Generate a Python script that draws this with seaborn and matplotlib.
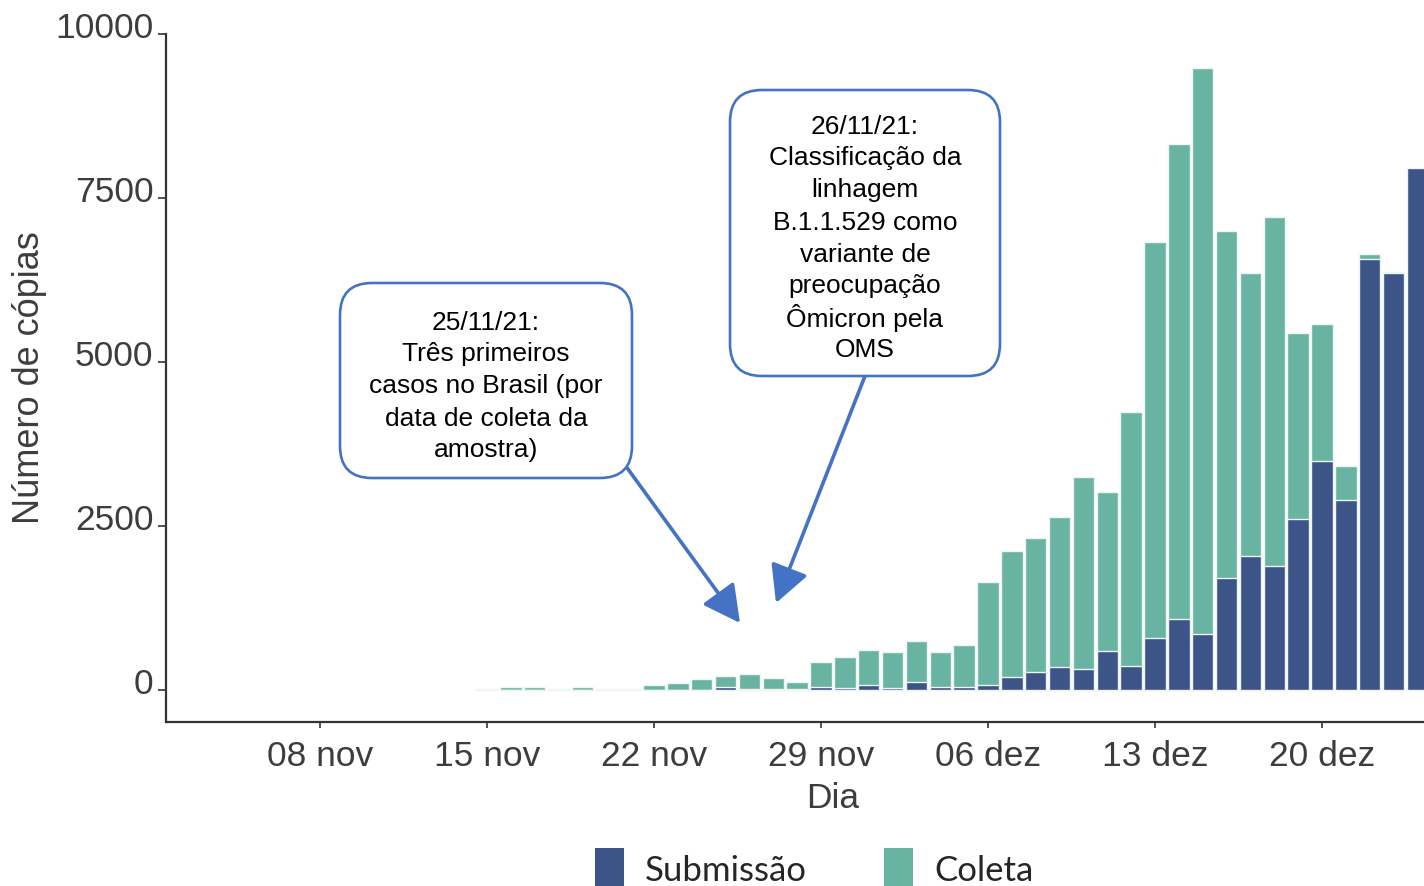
import numpy as np
import pandas as pd
import matplotlib
matplotlib.use("Agg")
import matplotlib.pyplot as plt
import matplotlib.dates as mdates
from matplotlib.patches import FancyBboxPatch, FancyArrowPatch, Patch
from matplotlib.transforms import IdentityTransform, ScaledTranslation
import seaborn as sns

# ---------------- data ----------------
start_date = "2021-11-15"
end_date = "2021-12-24"
coleta = [20, 50, 50, 20, 50, 20, 20, 75, 100, 160,
          210, 240, 180, 125, 420, 500, 610, 580, 745, 580,
          690, 1650, 2110, 2320, 2640, 3250, 3010, 4230, 6830, 8330,
          9480, 6990, 6350, 7210, 5440, 5580, 3410, 6640, 6370, 0]
submissao = [0, 0, 0, 0, 0, 0, 0, 0, 0, 0,
             50, 20, 20, 20, 50, 25, 75, 25, 125, 50,
             50, 75, 190, 265, 345, 315, 600, 360, 795, 1080,
             850, 1700, 2045, 1890, 2605, 3490, 2900, 6565, 6350, 7960]
tick_dates = ["2021-11-08", "2021-11-15", "2021-11-22", "2021-11-29",
              "2021-12-06", "2021-12-13", "2021-12-20"]
tick_labels = ["08 nov", "15 nov", "22 nov", "29 nov", "06 dez", "13 dez", "20 dez"]
y_ticks = [0, 2500, 5000, 7500, 10000]
series_names = ["Submissão", "Coleta"]
colors = {"Submissão": "#3C5488", "Coleta": "#69B3A2"}
note1 = ["25/11/21:", "Três primeiros", "casos no Brasil (por",
         "data de coleta da", "amostra)"]
note2 = ["26/11/21:", "Classificação da", "linhagem", "B.1.1.529 como",
         "variante de", "preocupação", "Ômicron pela", "OMS"]

dates = pd.date_range(start_date, end_date, freq="D")
xnum = mdates.date2num(dates.to_pydatetime())
df = pd.concat([
    pd.DataFrame({"x": xnum, "valor": coleta, "serie": "Coleta"}),
    pd.DataFrame({"x": xnum, "valor": submissao, "serie": "Submissão"}),
], ignore_index=True)

# ---------------- style ----------------
sns.set_theme(style="white")
plt.rcParams["font.family"] = ["Liberation Sans", "DejaVu Sans"]

W, H = 1424, 886
fig = plt.figure(figsize=(W / 100, H / 100), dpi=100)
ax = fig.add_axes([166 / W, 1 - 722 / H, 1 - 166 / W, (722 - 34) / H])

sns.barplot(data=df, x="x", y="valor", hue="serie",
            hue_order=["Coleta", "Submissão"], palette=colors,
            dodge=False, native_scale=True, width=0.9, saturation=1,
            edgecolor="#eef5f3", linewidth=1.0, legend=False, ax=ax)

tnum = mdates.date2num(pd.to_datetime(tick_dates).to_pydatetime())
days_per_px = 7 / 167
ax.set_xlim(tnum[0] - 154 * days_per_px, tnum[-1] + 102 * days_per_px)
ax.set_ylim(-490, 10000)
ax.set_xticks(tnum)
ax.set_xticklabels(tick_labels)
ax.set_yticks(y_ticks)
ax.set_yticklabels([str(v) for v in y_ticks])

for s in ["top", "right"]:
    ax.spines[s].set_visible(False)
for s in ["left", "bottom"]:
    ax.spines[s].set_color("#333333")
    ax.spines[s].set_linewidth(1.6)

ax.tick_params(axis="x", which="major", direction="out", length=4, width=1.2,
               color="#333333", labelsize=25.5, labelcolor="#3d3d3d", pad=9, bottom=True)
ax.tick_params(axis="y", which="major", direction="out", length=6, width=1.2,
               color="#333333", labelsize=25.5, labelcolor="#3d3d3d", pad=3, left=True)
# y tick labels sit slightly above their ticks in the reference
for lab in ax.get_yticklabels():
    lab.set_transform(lab.get_transform() + ScaledTranslation(0, 9 / 100, fig.dpi_scale_trans))

ax.set_xlabel("Dia", fontsize=25.5, color="#3d3d3d")
ax.xaxis.set_label_coords((833 - 166) / (W - 166), -(798 - 722) / (722 - 34))
ax.xaxis.label.set_va("center")
ax.set_ylabel("Número de cópias", fontsize=26, color="#3d3d3d", labelpad=6)
ax.grid(False)

# ---------------- annotation boxes ----------------
box_color = "#4472C4"

def add_box(x0, y0, x1, y1, lines, first_y, step=32):
    p = FancyBboxPatch((x0, H - y1), x1 - x0, y1 - y0,
                       boxstyle="round,pad=0,rounding_size=32",
                       transform=IdentityTransform(), facecolor="white",
                       edgecolor=box_color, linewidth=1.9, zorder=5)
    fig.add_artist(p)
    cx = (x0 + x1) / 2 / W
    for i, line in enumerate(lines):
        fig.text(cx, 1 - (first_y + i * step) / H, line,
                 ha="center", va="center_baseline", fontsize=19,
                 color="black", zorder=6)

def add_arrow(x0, y0, x1, y1):
    fig.add_artist(FancyArrowPatch(
        (x0, H - y0), (x1, H - y1), transform=IdentityTransform(),
        arrowstyle="-|>,head_length=0.95,head_width=0.5", mutation_scale=24,
        color=box_color, linewidth=2.6, shrinkA=0, shrinkB=0, zorder=4))

add_arrow(625, 465, 740, 623)
add_arrow(865, 376, 776, 603)
add_box(340, 283, 632, 478, note1, 320)
add_box(730, 90, 1000, 376, note2, 124)

# ---------------- legend ----------------
handles = [Patch(facecolor=colors[n], edgecolor="none", label=n) for n in series_names]
fig.legend(handles=handles, loc="center", bbox_to_anchor=(814 / W, 1 - 869 / H),
           ncol=2, frameon=False, handlelength=0.85, handleheight=1.45,
           handletextpad=0.6, columnspacing=2.2,
           prop={"family": ["Lato", "DejaVu Sans"], "size": 25})

fig.savefig("out.png", dpi=100)
